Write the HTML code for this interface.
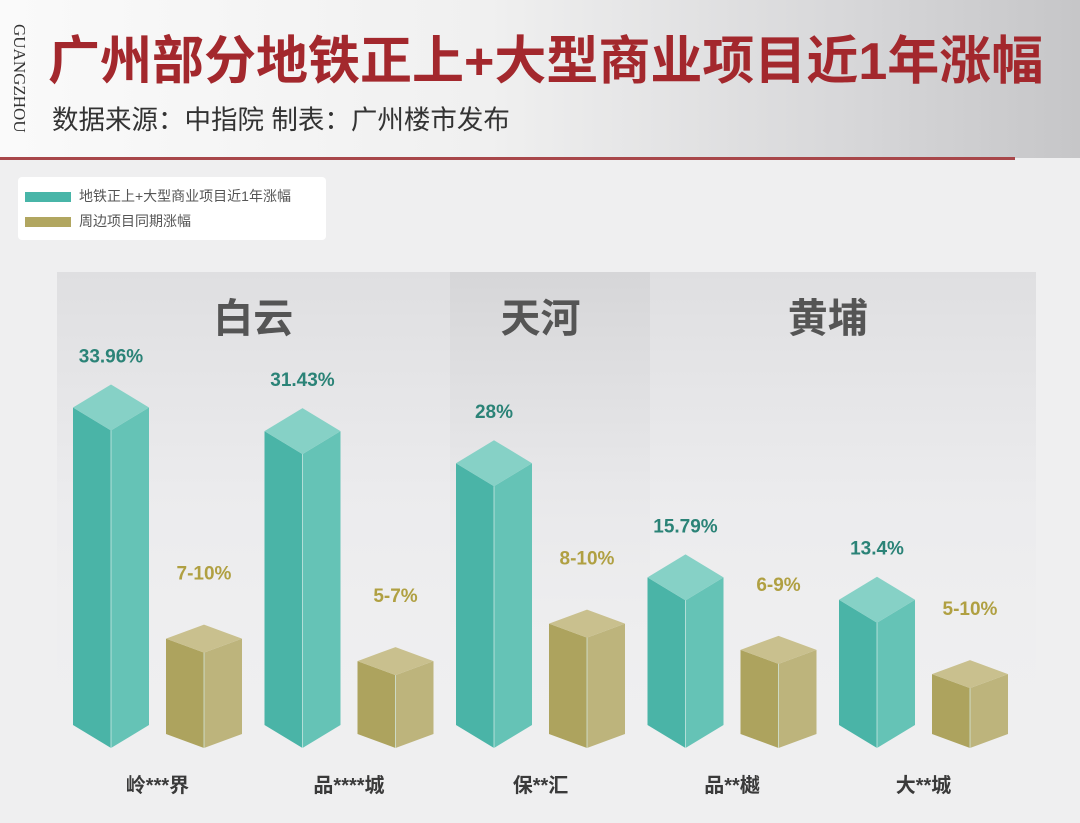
<!DOCTYPE html>
<html><head><meta charset="utf-8">
<style>
body{margin:0;width:1080px;height:823px;overflow:hidden;background:#efeff0;font-family:"Liberation Sans","Noto Sans CJK SC",sans-serif;position:relative}
.hdr{position:absolute;left:0;top:0;width:1080px;height:158px;background:linear-gradient(90deg,#fafafa 0%,#f0f0f0 45%,#d6d6d8 80%,#c6c6c8 100%)}
.redline{position:absolute;left:0;top:157px;width:1015px;height:3px;background:#a8474a}
.title{position:absolute;left:48px;top:30px;font-size:52px;line-height:64px;font-weight:bold;color:#a3282d;white-space:nowrap}
.sub{position:absolute;left:52px;top:102px;font-size:26.5px;line-height:36px;color:#333;white-space:nowrap}
.gz{position:absolute;left:9px;top:24px;font-family:"Liberation Serif",serif;font-size:17px;color:#333;writing-mode:vertical-rl}
.legend{position:absolute;left:18px;top:177px;width:308px;height:63px;background:#fff;border-radius:4px}
.li{position:absolute;left:7px;font-size:14px;color:#555;white-space:nowrap}
.sw{display:inline-block;width:46px;height:10px;vertical-align:middle;margin-right:8px}
</style></head><body>
<div class="hdr"></div>
<div class="redline"></div>
<div class="gz">GUANGZHOU</div>
<div class="title">广州部分地铁正上+大型商业项目近1年涨幅</div>
<div class="sub">数据来源：中指院 制表：广州楼市发布</div>
<div class="legend">
 <div class="li" style="top:9px"><span class="sw" style="background:#48b5a8"></span>地铁正上+大型商业项目近1年涨幅</div>
 <div class="li" style="top:34px"><span class="sw" style="background:#b1a660"></span>周边项目同期涨幅</div>
</div>
<svg id="chart" width="1080" height="823" style="position:absolute;left:0;top:0">
<defs>
<linearGradient id="pg" x1="0" y1="0" x2="0" y2="1"><stop offset="0" stop-color="#dfdfe1"/><stop offset="0.45" stop-color="#ebebed"/><stop offset="1" stop-color="#efeff0" stop-opacity="0"/></linearGradient>
<linearGradient id="pg2" x1="0" y1="0" x2="0" y2="1"><stop offset="0" stop-color="#d6d6d8"/><stop offset="0.45" stop-color="#e8e8ea"/><stop offset="1" stop-color="#efeff0" stop-opacity="0"/></linearGradient>
</defs>
<g id="panels"></g><g id="bars"></g><g id="labels"></g>
</svg>
<script>
const categories=["岭***界","品****城","保**汇","品**樾","大**城"];
const metroValues=[33.96,31.43,28,15.79,13.4];
const metroLabels=["33.96%","31.43%","28%","15.79%","13.4%"];
const nearbyValues=[10.2,7.8,11.8,9.0,6.4];
const nearbyLabels=["7-10%","5-7%","8-10%","6-9%","5-10%"];
const groups=["白云","天河","黄埔"];
const groupSpans=[[0,1],[2,2],[3,4]];
const NS="http://www.w3.org/2000/svg";
const base=748, scale=9.35, x0=111, step=191.5, gap=93, hw=38;
const xPos=i=>x0+i*step;
const yPos=v=>base-v*scale;
function mk(t,a,p){const e=document.createElementNS(NS,t);for(const k in a)e.setAttribute(k,a[k]);p.appendChild(e);return e;}
const panels=document.getElementById('panels'),bars=document.getElementById('bars'),labels=document.getElementById('labels');
const bounds=[57,450,650,1036];
groups.forEach((g,gi)=>{
 const r=mk('rect',{x:bounds[gi],y:272,width:bounds[gi+1]-bounds[gi],height:480,fill:gi==1?'url(#pg2)':'url(#pg)'},panels);
 
 
 const s=groupSpans[gi];
 const cx=(xPos(s[0])+xPos(s[1])+gap)/2;
 const t=mk('text',{x:cx,y:332,'text-anchor':'middle','font-size':40,'font-weight':'bold',fill:'#555','font-family':'"Liberation Sans","Noto Sans CJK SC",sans-serif'},labels);
 t.textContent=g;
 
 
});
function prism(cx,v,d,cL,cR,cT,name){
 const yt=yPos(v), g=mk('g',{},bars);
 
 
 mk('polygon',{points:`${cx-hw},${yt-d} ${cx},${yt} ${cx},${base} ${cx-hw},${base-d}`,fill:cL},g);
 mk('polygon',{points:`${cx},${yt} ${cx+hw},${yt-d} ${cx+hw},${base-d} ${cx},${base}`,fill:cR},g);
 mk('polygon',{points:`${cx-hw},${yt-d} ${cx},${yt-2*d} ${cx+hw},${yt-d} ${cx},${yt}`,fill:cT},g);
 mk('line',{x1:cx,y1:yt,x2:cx,y2:base,stroke:'#d8eee9','stroke-width':1,opacity:.7},g);
 return yt-2*d;
}
const F='"Liberation Sans","Noto Sans CJK SC",sans-serif';
categories.forEach((c,i)=>{
 const xm=xPos(i), xn=xm+gap;
 const pm=prism(xm,metroValues[i],23,'#4ab4a7','#65c3b6','#86d1c6','bar-metro-'+i);
 const pn=prism(xn,nearbyValues[i],14,'#ada35e','#bdb47c','#c9c08e','bar-nearby-'+i);
 let t=mk('text',{x:xm,y:pm-22,'text-anchor':'middle','font-size':19,'font-weight':'bold',fill:'#2b8377','font-family':F},labels);
 t.textContent=metroLabels[i];
 
 
 t=mk('text',{x:xn,y:pn-45,'text-anchor':'middle','font-size':19,'font-weight':'bold',fill:'#b0a042','font-family':F},labels);
 t.textContent=nearbyLabels[i];
 
 
 t=mk('text',{x:(xm+xn)/2,y:792,'text-anchor':'middle','font-size':20,'font-weight':'bold',fill:'#3a3a3a','font-family':F},labels);
 t.textContent=c;
 
 
});
</script>
</body></html>
